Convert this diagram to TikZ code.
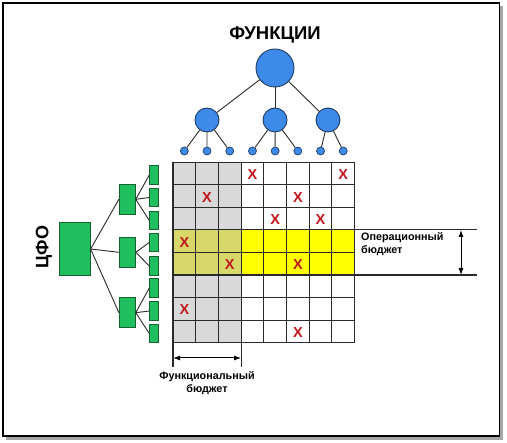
\documentclass[tikz,border=0pt]{standalone}
\usepackage{fontspec}
\setmainfont{Liberation Sans}
\usetikzlibrary{arrows.meta}
\definecolor{cblue}{HTML}{3D8AE8}
\definecolor{cblueline}{HTML}{1F3C64}
\definecolor{cgreen}{HTML}{1FBF5F}
\definecolor{cgreenline}{HTML}{17602F}
\definecolor{cgray}{HTML}{D9D9D9}
\definecolor{cyel}{HTML}{FFFF00}
\definecolor{colive}{HTML}{D8D86A}
\definecolor{cred}{HTML}{C0161C}
\definecolor{cline}{HTML}{2A2A2A}
\tikzset{
  circ/.style={circle, draw=cblueline, fill=cblue, line width=0.9pt, inner sep=0pt},
  bigc/.style={circ, minimum size=38pt},
  midc/.style={circ, minimum size=24pt},
  smallc/.style={circ, minimum size=8pt, line width=0.7pt},
  gbox/.style={rectangle, draw=cgreenline, fill=cgreen, line width=0.9pt, inner sep=0pt},
  conn/.style={draw=cline, line width=0.9pt},
  gridln/.style={draw=cline, line width=1.1pt},
  xmark/.style={text=cred, font=\bfseries\fontsize{14.5}{14.5}\selectfont, inner sep=0pt},
  lbl/.style={font=\bfseries\fontsize{10.8}{12.8}\selectfont, inner sep=0pt},
  dim/.style={draw=black, line width=1pt, {Latex[length=7pt,width=5pt]}-{Latex[length=7pt,width=5pt]}}
}
\begin{document}
\begin{tikzpicture}[x=1pt,y=-1pt]
\useasboundingbox (0,0) rectangle (507,443);
% frame with shadow
\fill[black!35] (6,6) rectangle (503,440);
\draw[fill=white, line width=1.3pt] (3,3) rectangle (499.5,436);

% title
\node[font=\bfseries\fontsize{18.5}{20}\selectfont] (title) at (275,35) {ФУНКЦИИ};

% function tree
\node[bigc] (f) at (275,68) {};
\node[midc] (m1) at (207,120) {};
\node[midc] (m2) at (275,120) {};
\node[midc] (m3) at (328,120) {};
\foreach \k [count=\n] in {184.35,207.05,229.75,252.45,275.15,297.85,320.55,343.25}
  \node[smallc] (s\n) at (\k,151) {};
\foreach \a/\b in {f/m1,f/m2,f/m3,m1/s1,m1/s2,m1/s3,m2/s4,m2/s5,m2/s6,m3/s7,m3/s8}
  \draw[conn] (\a) -- (\b);

% grid fills
\fill[cgray] (173,162.3) rectangle (241.1,343);
\fill[cyel] (241.1,229.95) rectangle (354.6,275.05);
\fill[colive] (173,229.95) rectangle (241.1,275.05);
\foreach \i in {0,...,8}
  \draw[gridln] ({173+22.7*\i},162.3) -- ({173+22.7*\i},343);
\foreach \j in {0,...,8}
  \draw[gridln] (173,{162.3+22.55*\j}) -- (354.6,{162.3+22.55*\j});

% X marks
\foreach \c/\r [count=\n] in {4/1,8/1,2/2,6/2,5/3,7/3,1/4,3/5,6/5,1/7,6/8}
  \node[xmark] (x\n) at ({173+22.7*(\c-0.5)},{162.3+22.55*(\r-0.5)+1}) {X};

% operational budget
\draw[gridln] (354.6,229.95) -- (477,229.95);
\draw[gridln] (354.6,275.05) -- (477,275.05);
\coordinate (ot) at (461,229.95);
\coordinate (ob) at (461,275.05);
\draw[dim] (ot) -- (ob);
\node[lbl, anchor=north west, align=left] (op) at (361,232) {Операционный\\бюджет};

% functional budget
\draw[gridln] (173,343) -- (173,367);
\draw[gridln] (241.1,343) -- (241.1,367);
\coordinate (fl) at (173,358);
\coordinate (fr) at (241.1,358);
\draw[dim] (fl) -- (fr);
\node[lbl, align=center, anchor=north] (fb) at (207,371) {Функциональный\\бюджет};

% CFO tree
\node[font=\bfseries\fontsize{18}{20}\selectfont, rotate=90] (cfo) at (44,247) {ЦФО};
\node[gbox, minimum width=31pt, minimum height=53pt] (g) at (74.7,249) {};
\node[gbox, minimum width=16pt, minimum height=30pt] (h1) at (127.3,199.3) {};
\node[gbox, minimum width=16pt, minimum height=30pt] (h2) at (127.3,252.3) {};
\node[gbox, minimum width=16pt, minimum height=30pt] (h3) at (127.3,312.7) {};
\foreach \y [count=\n] in {175,197.5,220.5,242.5,266,288,311,333.5}
  \node[gbox, minimum width=8.5pt, minimum height=18.5pt] (k\n) at (154,\y) {};
\foreach \a/\b in {g/h1,g/h2,g/h3}
  \draw[conn] (\a.east) -- (\b.west);
\foreach \a/\b in {h1/k1,h1/k2,h1/k3,h2/k4,h2/k5,h3/k6,h3/k7,h3/k8}
  \draw[conn] (\a.east) -- (\b.west);
\end{tikzpicture}
\end{document}
